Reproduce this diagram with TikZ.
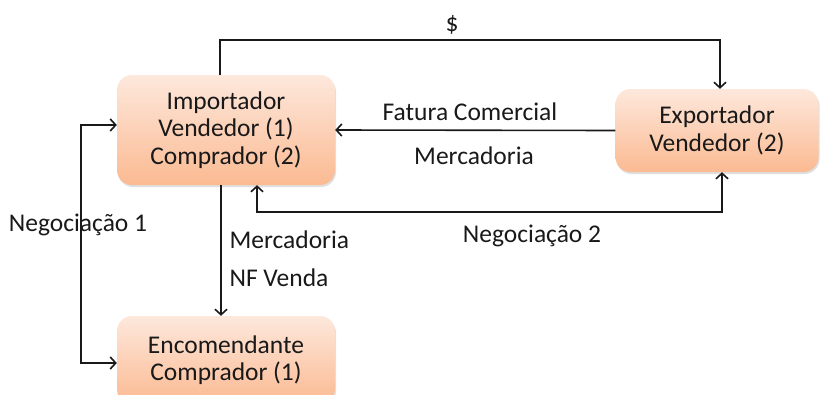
\documentclass[tikz,border=0pt]{standalone}
\usepackage{fontspec}
\setmainfont{Carlito}
\usetikzlibrary{arrows.meta,shadows}
\tikzset{
  box/.style={rounded corners=15pt, top color=boxtop, bottom color=boxbot, draw=none,
    drop shadow={shadow xshift=1pt, shadow yshift=-2pt, opacity=0.25},
    align=center, inner sep=0pt},
  arr/.style={line width=1.6pt, draw=black!90, -{Straight Barb[length=5.5pt,width=12pt]}},
  darr/.style={arr, {Straight Barb[length=5.5pt,width=12pt]}-{Straight Barb[length=5.5pt,width=12pt]}}
}
\begin{document}
\begin{tikzpicture}[x=1pt, y=-1pt, font=\fontsize{25.5}{27.5}\selectfont, text=black!90]
\definecolor{boxtop}{RGB}{253,232,220}
\definecolor{boxbot}{RGB}{251,186,146}
\useasboundingbox (0,0) rectangle (820,394);
% caixas
\node[box, minimum width=218pt, minimum height=110pt] (imp) at (226,130) {Importador\\Vendedor (1)\\Comprador (2)};
\node[box, minimum width=203pt, minimum height=83pt] (exp) at (717,130.5) {Exportador\\Vendedor (2)};
\node[box, minimum width=218pt, minimum height=88pt] (enc) at (226,360) {Encomendante\\Comprador (1)};
% ligacoes
\draw[arr] ([xshift=-6pt]imp.north) -- ++(0,-35) -| ([xshift=3pt]exp.north);
\node (pag) at (452,25) {\$};
\draw[arr] (exp.west) -- (imp.east);
\node (fat) at (470,112) {Fatura Comercial};
\node (merc) at (474,156) {Mercadoria};
\draw[arr] ([xshift=-5pt]imp.south) -- ([xshift=-5pt]enc.north);
\node[anchor=west] (merc2) at (226,240) {Mercadoria};
\node[anchor=west] (nf) at (226,278) {NF Venda};
\draw[darr] ([xshift=31pt]imp.south) -- ++(0,27) -| ([xshift=5pt]exp.south);
\node (neg2) at (532,236) {Negociação 2};
\node (neg1) at (78,225) {Negociação 1};
\draw[darr] ([yshift=5pt]imp.west) -- ++(-36,0) |- ([yshift=-3pt]enc.west);
\end{tikzpicture}
\end{document}
